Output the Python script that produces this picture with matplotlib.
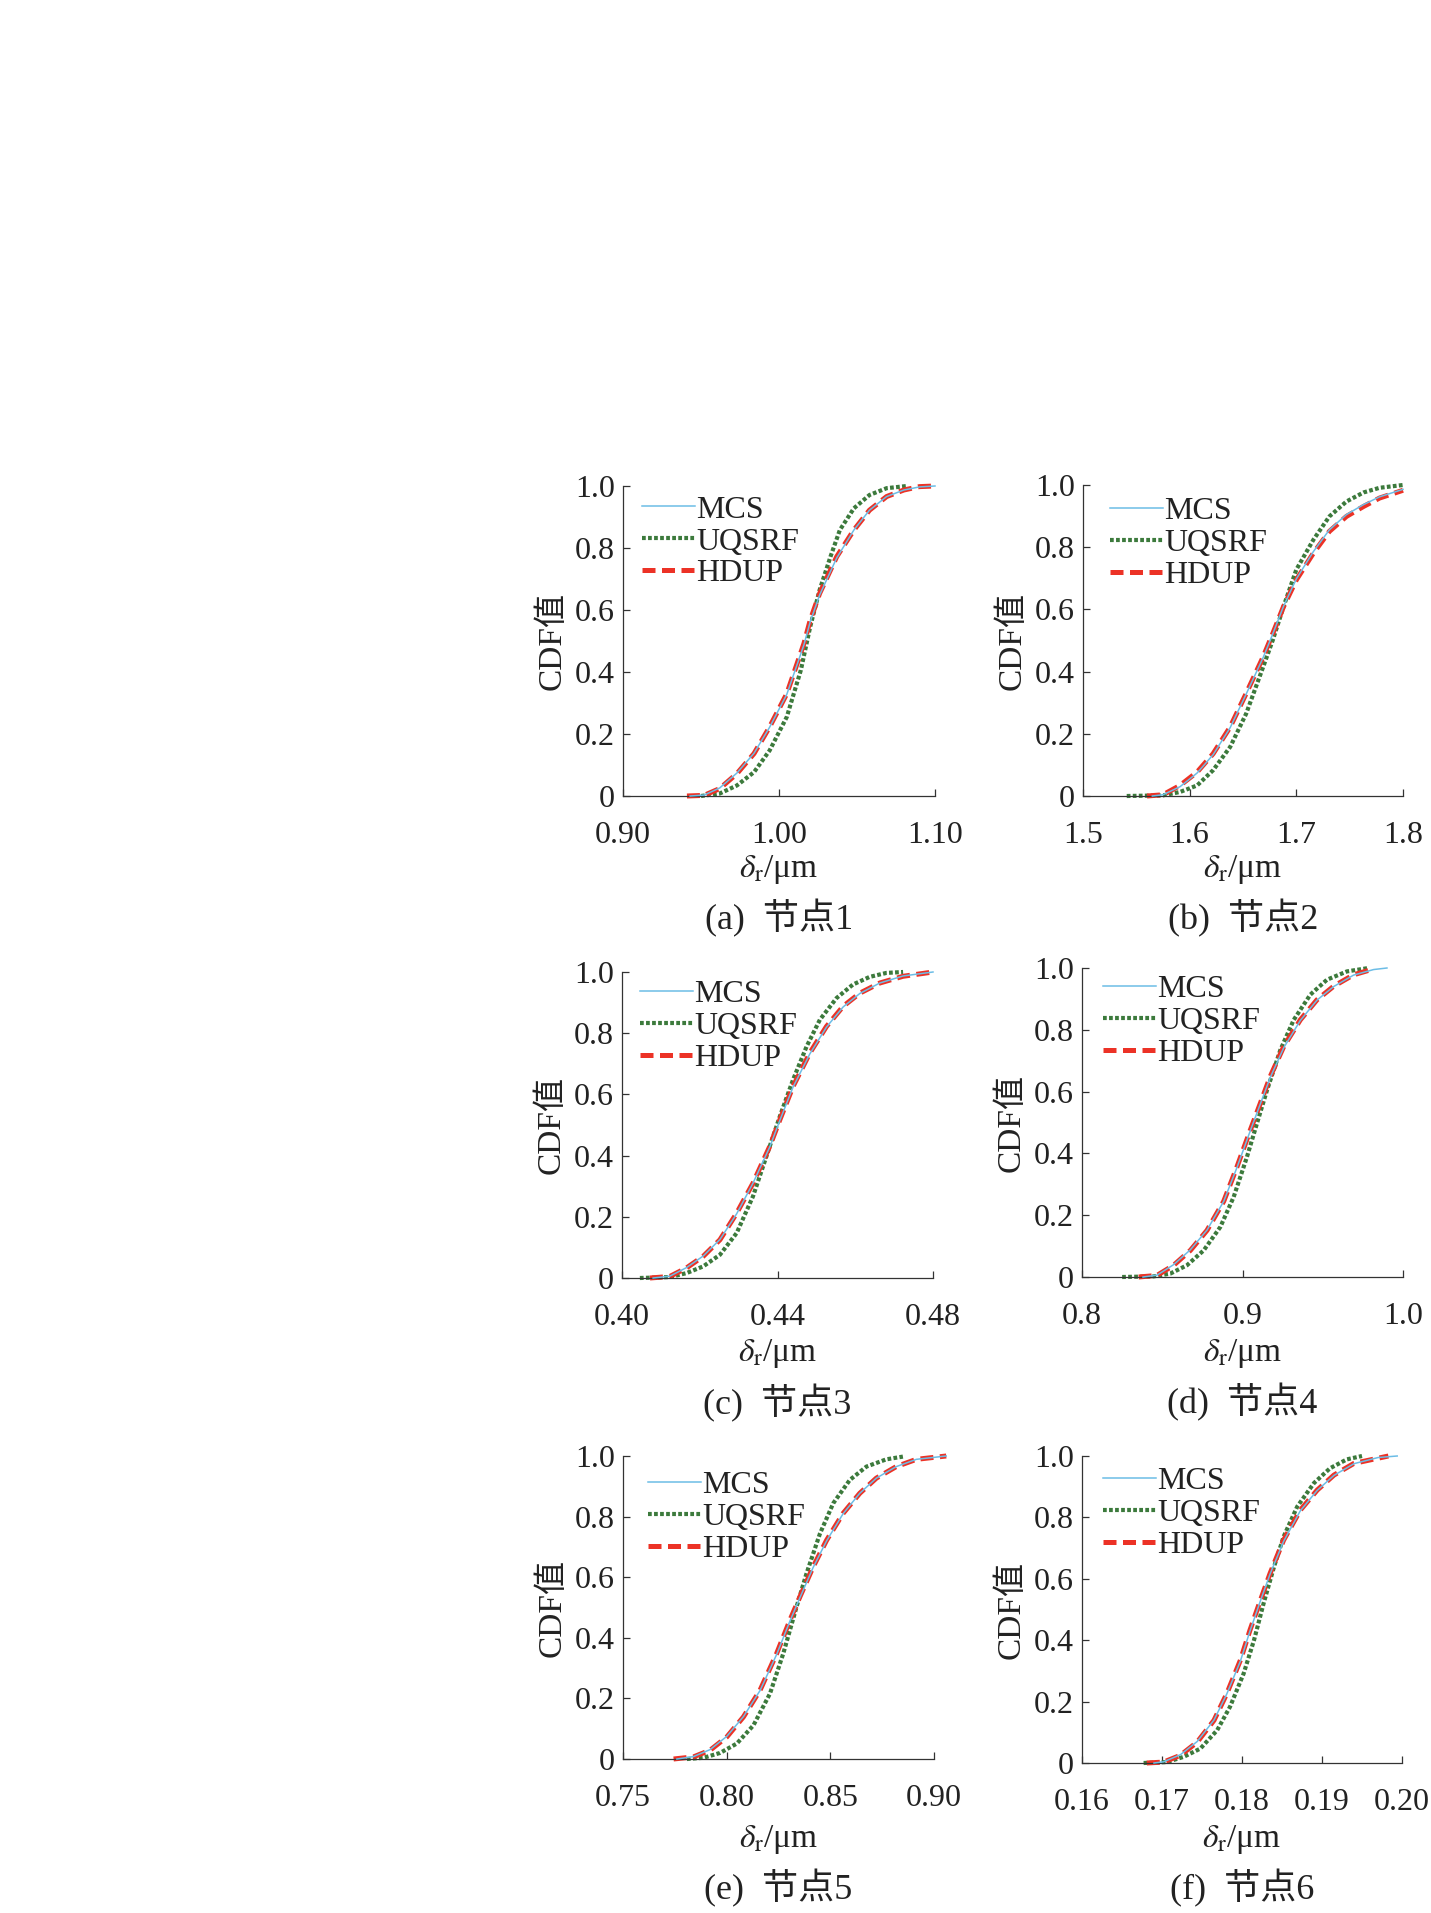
import matplotlib
matplotlib.use("Agg")
import matplotlib.pyplot as plt

plt.rcParams['font.family'] = ['Liberation Serif', 'Noto Sans CJK SC']
plt.rcParams['mathtext.fontset'] = 'stix'

# ---------------- data ----------------
# (a) node 1
A_X_MCS = [0.943, 0.952, 0.962, 0.973, 0.984, 0.994, 1.005, 1.016, 1.020, 1.026, 1.037, 1.048, 1.058, 1.069, 1.080, 1.090, 1.100]
A_Y_MCS = [0.0, 0.003, 0.026, 0.074, 0.138, 0.222, 0.328, 0.488, 0.562, 0.648, 0.768, 0.858, 0.922, 0.966, 0.987, 0.997, 1.0]
A_X_UQ = [0.950, 0.962, 0.973, 0.984, 0.994, 1.005, 1.014, 1.020, 1.026, 1.033, 1.039, 1.048, 1.058, 1.069, 1.082]
A_Y_UQ = [0.0, 0.008, 0.034, 0.077, 0.147, 0.255, 0.406, 0.546, 0.664, 0.772, 0.858, 0.928, 0.971, 0.993, 1.0]
A_X_HD = [0.941, 0.952, 0.962, 0.973, 0.984, 0.994, 1.005, 1.016, 1.020, 1.026, 1.037, 1.048, 1.058, 1.069, 1.080, 1.090, 1.100]
A_Y_HD = [0.0, 0.002, 0.024, 0.072, 0.137, 0.223, 0.330, 0.492, 0.567, 0.653, 0.772, 0.858, 0.922, 0.966, 0.987, 0.998, 1.0]

# (b) node 2
B_X_MCS = [1.565, 1.575, 1.591, 1.607, 1.622, 1.638, 1.653, 1.669, 1.678, 1.688, 1.700, 1.716, 1.731, 1.747, 1.763, 1.778, 1.800]
B_Y_MCS = [0.0, 0.004, 0.030, 0.074, 0.133, 0.220, 0.328, 0.446, 0.522, 0.610, 0.698, 0.786, 0.856, 0.905, 0.937, 0.962, 0.986]
B_X_UQ = [1.541, 1.575, 1.591, 1.607, 1.622, 1.638, 1.653, 1.669, 1.678, 1.688, 1.700, 1.716, 1.731, 1.747, 1.763, 1.778, 1.800]
B_Y_UQ = [0.0, 0.002, 0.013, 0.034, 0.083, 0.158, 0.265, 0.416, 0.502, 0.609, 0.728, 0.824, 0.899, 0.947, 0.976, 0.991, 1.0]
B_X_HD = [1.560, 1.575, 1.591, 1.607, 1.622, 1.638, 1.653, 1.669, 1.678, 1.688, 1.700, 1.716, 1.731, 1.747, 1.763, 1.778, 1.800]
B_Y_HD = [0.0, 0.004, 0.034, 0.077, 0.136, 0.222, 0.330, 0.448, 0.523, 0.609, 0.695, 0.781, 0.851, 0.899, 0.931, 0.958, 0.983]

# (c) node 3
C_X_MCS = [0.4080, 0.4123, 0.4166, 0.4209, 0.4252, 0.4295, 0.4337, 0.4380, 0.4406, 0.4440, 0.4483, 0.4526, 0.4569, 0.4612, 0.4663, 0.4723, 0.4800]
C_Y_MCS = [0.0, 0.006, 0.034, 0.072, 0.126, 0.210, 0.310, 0.428, 0.515, 0.624, 0.732, 0.820, 0.886, 0.930, 0.964, 0.987, 1.0]
C_X_UQ = [0.4046, 0.4123, 0.4166, 0.4209, 0.4252, 0.4295, 0.4337, 0.4380, 0.4406, 0.4440, 0.4475, 0.4509, 0.4552, 0.4594, 0.4637, 0.4680, 0.4723]
C_Y_UQ = [0.0, 0.003, 0.016, 0.038, 0.076, 0.147, 0.267, 0.430, 0.528, 0.648, 0.757, 0.844, 0.915, 0.959, 0.984, 0.997, 1.0]
C_X_HD = [0.4072, 0.4123, 0.4166, 0.4209, 0.4252, 0.4295, 0.4337, 0.4380, 0.4406, 0.4440, 0.4483, 0.4526, 0.4569, 0.4612, 0.4663, 0.4723, 0.4800]
C_Y_HD = [0.0, 0.005, 0.033, 0.071, 0.125, 0.212, 0.310, 0.430, 0.517, 0.626, 0.735, 0.822, 0.888, 0.931, 0.964, 0.986, 1.0]

# (d) node 4
D_X_MCS = [0.8380, 0.8467, 0.8571, 0.8675, 0.8779, 0.8883, 0.8966, 0.9049, 0.9111, 0.9173, 0.9257, 0.9360, 0.9464, 0.9568, 0.9692, 0.9817, 0.9900]
D_Y_MCS = [0.0, 0.006, 0.040, 0.088, 0.152, 0.245, 0.355, 0.474, 0.560, 0.646, 0.742, 0.830, 0.896, 0.940, 0.977, 0.995, 1.0]
D_X_UQ = [0.825, 0.8447, 0.8550, 0.8654, 0.8758, 0.8862, 0.8945, 0.9028, 0.9090, 0.9153, 0.9236, 0.9319, 0.9423, 0.9526, 0.9651, 0.9786]
D_Y_UQ = [0.0, 0.002, 0.011, 0.038, 0.086, 0.162, 0.259, 0.389, 0.497, 0.605, 0.735, 0.832, 0.914, 0.962, 0.989, 1.0]
D_X_HD = [0.8353, 0.8467, 0.8571, 0.8675, 0.8779, 0.8883, 0.8966, 0.9049, 0.9111, 0.9173, 0.9257, 0.9360, 0.9464, 0.9568, 0.9692, 0.9817]
D_Y_HD = [0.0, 0.005, 0.038, 0.086, 0.151, 0.245, 0.357, 0.476, 0.562, 0.649, 0.746, 0.832, 0.897, 0.941, 0.978, 0.997]

# (e) node 5
E_X_MCS = [0.7760, 0.7840, 0.7920, 0.8001, 0.8081, 0.8161, 0.8241, 0.8305, 0.8353, 0.8417, 0.8482, 0.8562, 0.8642, 0.8722, 0.8818, 0.8915, 0.9059]
E_Y_MCS = [0.0, 0.008, 0.031, 0.075, 0.140, 0.226, 0.345, 0.455, 0.532, 0.632, 0.720, 0.810, 0.877, 0.927, 0.965, 0.989, 1.0]
E_X_UQ = [0.7808, 0.7888, 0.7968, 0.8049, 0.8129, 0.8209, 0.8273, 0.8337, 0.8385, 0.8450, 0.8514, 0.8594, 0.8674, 0.8770, 0.8850]
E_Y_UQ = [0.0, 0.004, 0.020, 0.051, 0.111, 0.216, 0.348, 0.502, 0.612, 0.744, 0.844, 0.921, 0.965, 0.989, 0.998]
E_X_HD = [0.7744, 0.7840, 0.7920, 0.8001, 0.8081, 0.8161, 0.8241, 0.8305, 0.8353, 0.8417, 0.8482, 0.8562, 0.8642, 0.8722, 0.8818, 0.8915, 0.9059]
E_Y_HD = [0.0, 0.007, 0.029, 0.073, 0.139, 0.227, 0.348, 0.458, 0.535, 0.634, 0.722, 0.811, 0.877, 0.927, 0.965, 0.989, 1.0]

# (f) node 6
F_X_MCS = [0.1690, 0.1702, 0.1723, 0.1744, 0.1765, 0.1781, 0.1798, 0.1810, 0.1823, 0.1835, 0.1852, 0.1873, 0.1894, 0.1915, 0.1940, 0.1970, 0.1994]
F_Y_MCS = [0.0, 0.004, 0.027, 0.070, 0.140, 0.225, 0.332, 0.430, 0.528, 0.615, 0.722, 0.822, 0.888, 0.937, 0.975, 0.995, 1.0]
F_X_UQ = [0.1677, 0.1706, 0.1727, 0.1748, 0.1769, 0.1785, 0.1802, 0.1815, 0.1827, 0.1840, 0.1852, 0.1869, 0.1890, 0.1910, 0.1931, 0.1950]
F_Y_UQ = [0.0, 0.003, 0.020, 0.047, 0.107, 0.183, 0.291, 0.400, 0.520, 0.639, 0.737, 0.835, 0.912, 0.960, 0.989, 1.0]
F_X_HD = [0.1681, 0.1702, 0.1723, 0.1744, 0.1765, 0.1781, 0.1798, 0.1810, 0.1823, 0.1835, 0.1852, 0.1873, 0.1894, 0.1915, 0.1940, 0.1983]
F_Y_HD = [0.0, 0.003, 0.025, 0.068, 0.139, 0.226, 0.335, 0.433, 0.530, 0.617, 0.726, 0.824, 0.889, 0.938, 0.976, 1.0]

SERIES_NAMES = ['MCS', 'UQSRF', 'HDUP']
Y_TICKS = [0.0, 0.2, 0.4, 0.6, 0.8, 1.0]
Y_TICK_LABELS = ['0', '0.2', '0.4', '0.6', '0.8', '1.0']

A_XTICKS = [0.90, 1.00, 1.10]; A_XLABELS = ['0.90', '1.00', '1.10']
B_XTICKS = [1.5, 1.6, 1.7, 1.8]; B_XLABELS = ['1.5', '1.6', '1.7', '1.8']
C_XTICKS = [0.40, 0.44, 0.48]; C_XLABELS = ['0.40', '0.44', '0.48']
D_XTICKS = [0.8, 0.9, 1.0]; D_XLABELS = ['0.8', '0.9', '1.0']
E_XTICKS = [0.75, 0.80, 0.85, 0.90]; E_XLABELS = ['0.75', '0.80', '0.85', '0.90']
F_XTICKS = [0.16, 0.17, 0.18, 0.19, 0.20]; F_XLABELS = ['0.16', '0.17', '0.18', '0.19', '0.20']

CAPTIONS = ['(a)  节点1', '(b)  节点2', '(c)  节点3', '(d)  节点4', '(e)  节点5', '(f)  节点6']

# ---------------- layout / style ----------------
W, H = 1431, 1913
FS = 23
FS_CAP = 26
C_MCS = '#6cbde6'
C_UQ = '#3c7a3c'
C_HD = '#ec3226'

# axes boxes in pixels: left, top, right, bottom
BOXES = [(623, 486, 935, 796), (1083, 485, 1403, 796),
         (622, 972, 933, 1278), (1082, 968, 1403, 1277),
         (623, 1456, 934, 1759), (1082, 1456, 1402, 1763)]
LEG_ANCHORS = [(0.061, 0.97), (0.084, 0.963), (0.058, 0.975),
               (0.066, 0.979), (0.081, 0.952), (0.066, 0.965)]
XLABEL_OFF = [74, 74, 76, 76, 81, 77]
CAP_OFF = [122, 122, 125, 125, 129, 125]

panels = [
    (A_X_MCS, A_Y_MCS, A_X_UQ, A_Y_UQ, A_X_HD, A_Y_HD, A_XTICKS, A_XLABELS),
    (B_X_MCS, B_Y_MCS, B_X_UQ, B_Y_UQ, B_X_HD, B_Y_HD, B_XTICKS, B_XLABELS),
    (C_X_MCS, C_Y_MCS, C_X_UQ, C_Y_UQ, C_X_HD, C_Y_HD, C_XTICKS, C_XLABELS),
    (D_X_MCS, D_Y_MCS, D_X_UQ, D_Y_UQ, D_X_HD, D_Y_HD, D_XTICKS, D_XLABELS),
    (E_X_MCS, E_Y_MCS, E_X_UQ, E_Y_UQ, E_X_HD, E_Y_HD, E_XTICKS, E_XLABELS),
    (F_X_MCS, F_Y_MCS, F_X_UQ, F_Y_UQ, F_X_HD, F_Y_HD, F_XTICKS, F_XLABELS),
]

fig = plt.figure(figsize=(W / 100, H / 100), dpi=100)

for i, (xm, ym, xu, yu, xh, yh, xt, xl) in enumerate(panels):
    l, t, r, b = BOXES[i]
    ax = fig.add_axes([l / W, 1 - b / H, (r - l) / W, (b - t) / H])
    ax.plot(xm, ym, color=C_MCS, lw=1.1, label=SERIES_NAMES[0], clip_on=False, zorder=3)
    ax.plot(xu, yu, color=C_UQ, lw=3.0, linestyle=(0, (0.9, 0.55)), label=SERIES_NAMES[1],
            clip_on=False, zorder=2)
    ax.plot(xh, yh, color=C_HD, lw=3.6, linestyle=(0, (2.6, 1.3)), label=SERIES_NAMES[2],
            clip_on=False, zorder=2.5)
    ax.set_xlim(xt[0], xt[-1])
    ax.set_ylim(0, 1.0)
    ax.set_xticks(xt)
    ax.set_xticklabels(xl)
    ax.set_yticks(Y_TICKS)
    ax.set_yticklabels(Y_TICK_LABELS)
    for s in ['top', 'right']:
        ax.spines[s].set_visible(False)
    for s in ['left', 'bottom']:
        ax.spines[s].set_linewidth(0.9)
        ax.spines[s].set_color('#333333')
    ax.tick_params(axis='both', direction='in', length=5, width=0.9, color='#333333',
                   labelsize=FS, labelcolor='#222222')
    ax.tick_params(axis='x', pad=18)
    ax.tick_params(axis='y', pad=6)
    ax.patch.set_alpha(0)

    leg = ax.legend(loc='upper left', bbox_to_anchor=LEG_ANCHORS[i], frameon=False,
                    fontsize=FS, handlelength=1.65, handletextpad=0.05,
                    labelspacing=0.08, borderpad=0, borderaxespad=0)
    for txt in leg.get_texts():
        txt.set_color('#222222')

    ax.text(-71 / (r - l), 0.5, 'CDF值', rotation=90, ha='center', va='center',
            transform=ax.transAxes, fontsize=24, color='#222222')

    cx = (l + r) / 2 / W
    fig.text(cx, 1 - (b + XLABEL_OFF[i]) / H, r'$\delta_\mathrm{r}$/μm', ha='center', va='center',
             fontsize=24, color='#222222')
    fig.text(cx, 1 - (b + CAP_OFF[i]) / H, CAPTIONS[i], ha='center', va='center',
             fontsize=FS_CAP, color='#222222')

fig.savefig('out.png', dpi=100, facecolor='white')
